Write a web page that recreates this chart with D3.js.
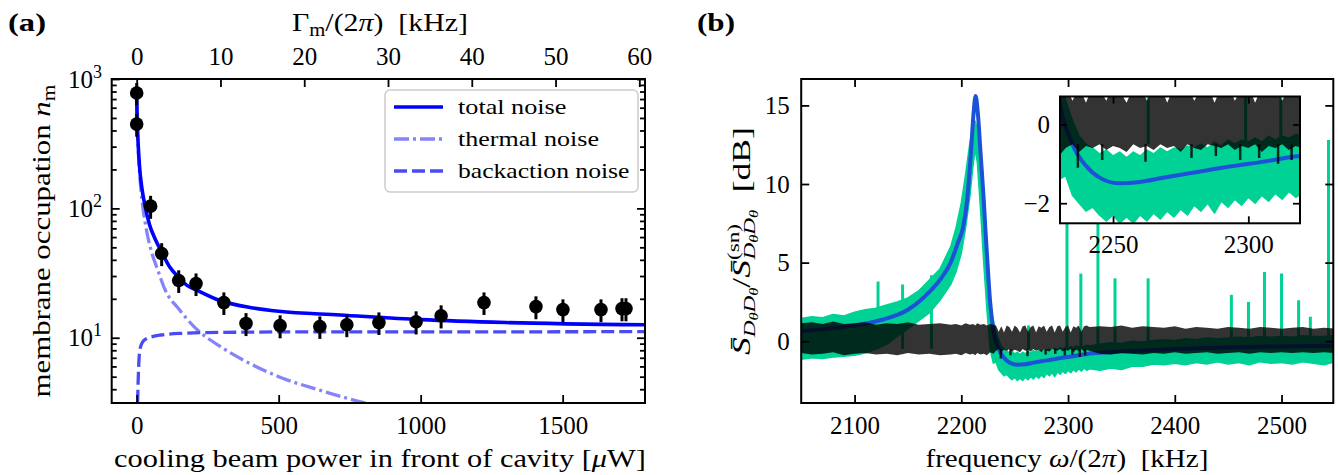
<!DOCTYPE html>
<html>
<head>
<meta charset="utf-8">
<script src="https://d3js.org/d3.v7.min.js"></script>
<style>
  body { margin: 0; background: #fff; }
  svg { display: block; font-family: "Liberation Serif", "Times New Roman", serif; }
  text { white-space: pre; }
</style>
</head>
<body>
<svg id="fig" width="1338" height="475"></svg>
<script>
// ---------- panel (a): occupation vs cooling power ----------
const powerUW    = [0, 0, 49, 88, 148, 209, 307, 385, 505, 645, 740, 853, 984, 1072, 1223, 1406, 1501, 1635, 1709, 1723];
const occupation = [780, 448, 104, 44.8, 27.7, 26.2, 18.7, 12.9, 12.4, 12.2, 12.6, 13.1, 13.3, 14.8, 18.7, 17.4, 16.5, 16.5, 16.8, 16.8];
const occErr     = [150, 90, 21, 9, 5.5, 5.2, 3.7, 2.6, 2.5, 2.4, 2.5, 2.6, 2.7, 3.0, 3.7, 3.5, 3.3, 3.3, 3.4, 3.4];

const totalP   = [0, 2, 5, 10, 18, 29, 45, 65, 88, 117, 150, 176, 209, 293, 410, 500, 716, 1000, 1300, 1800];
const totalN   = [700, 470, 320, 210, 145, 106, 75, 58, 46, 35, 29, 25.5, 23.5, 19.4, 17.0, 16.0, 15.0, 13.8, 13.1, 12.6];
const thermalP = [0, 2, 5, 10, 20, 35, 50, 75, 100, 150, 200, 300, 400, 500, 650, 800, 1000, 1200];
const thermalN = [703, 456, 299, 190, 110, 67, 48, 33, 23.5, 16.5, 12.3, 8.4, 6.3, 5.0, 3.9, 3.15, 2.6, 2.2];
const backP    = [1, 2, 3.5, 5, 7, 11, 20, 33, 55, 86, 150, 300, 600, 1000, 1800];
const backN    = [1.2, 2.2, 3.3, 4.5, 6.0, 8.0, 9.2, 9.8, 10.2, 10.5, 10.8, 11.0, 11.1, 11.1, 11.15];

const legendLabels = ["total noise", "thermal noise", "backaction noise"];
const powerTicks = [0, 500, 1000, 1500];
const gammaTicks = [0, 10, 20, 30, 40, 50, 60];
const occTicks = [10, 100, 1000];

// ---------- panel (b): spectrum ----------
const specF = [2050,2060,2070,2080,2090,2100,2110,2120,2130,2140,2150,2160,2170,2180,2190,
  2195,2200,2204,2208,2211,2213,2215,2218,2221,2224,2227,2230,
  2232.5,2235,2237.5,2240,2242.5,2245,2247.5,2250,2252.5,2255,2257.5,2260,2262.5,2265,2267.5,2270,2272.5,2275,2277.5,2280,
  2282.5,2285,2287.5,2290,2292.5,2295,2297.5,2300,2302.5,2305,2307.5,2310,2312.5,2315,2317.5,2320,
  2330,2340,2350,2360,2370,2380,2390,2400,2410,2420,2430,2440,2450,2460,2470,2480,2490,2500,2510,2520,2530,2540,2550];
const greenHi = [1.45,1.55,1.5,1.7,1.6,1.85,2.0,2.1,2.3,2.5,2.75,3.2,3.9,4.6,6.0,
  7.2,8.8,10.6,12.6,13.6,14.0,13.4,11.4,8.0,5.0,2.6,1.3,
  0.6,0.1,-0.3,-0.5,-0.6,-0.75,-0.65,-0.8,-0.7,-0.85,-0.7,-0.8,-0.65,-0.75,-0.6,-0.7,-0.6,-0.65,-0.55,-0.6,
  -0.5,-0.6,-0.45,-0.55,-0.4,-0.5,-0.4,-0.45,-0.35,-0.45,-0.3,-0.4,-0.3,-0.35,-0.25,-0.3,
  -0.2,-0.1,-0.15,0.0,-0.05,0.05,0.1,0.05,0.15,0.1,0.2,0.15,0.2,0.25,0.2,0.3,0.25,0.3,0.25,0.35,0.3,0.3,0.35];
const greenLo = [-1.15,-1.05,-1.1,-1.0,-0.95,-0.9,-0.75,-0.5,-0.2,0.3,0.8,1.3,1.8,2.6,3.6,
  4.4,5.6,7.2,9.2,11.2,12.2,11.4,8.4,5.0,2.0,-0.5,-1.4,
  -1.3,-1.8,-2.0,-2.2,-2.1,-2.3,-2.45,-2.3,-2.5,-2.35,-2.5,-2.3,-2.45,-2.25,-2.4,-2.2,-2.35,-2.15,-2.3,-2.05,
  -2.2,-2.0,-2.25,-1.95,-2.1,-1.9,-2.05,-1.85,-2.0,-1.8,-1.95,-1.75,-1.9,-1.7,-1.85,-1.75,
  -1.85,-1.7,-1.8,-1.6,-1.6,-1.45,-1.5,-1.4,-1.5,-1.35,-1.45,-1.3,-1.45,-1.35,-1.5,-1.3,-1.4,-1.35,-1.45,-1.3,-1.4,-1.5,-1.3];
const darkHi = [1.15,1.2,1.1,1.25,1.1,1.15,1.2,1.05,1.15,1.1,1.2,1.05,1.1,1.15,1.05,
  1.1,1.0,1.15,1.05,1.1,1.0,1.15,1.05,1.1,1.0,1.1,1.05,
  1.0,0.6,0.95,0.55,1.0,0.9,0.6,1.0,0.85,0.55,0.95,1.0,0.6,0.9,1.0,0.55,0.95,0.85,1.0,0.6,
  0.9,1.0,0.55,0.95,1.0,0.6,0.9,1.0,0.55,0.95,0.85,1.0,0.6,0.95,1.0,0.9,
  0.95,0.9,1.0,0.85,0.95,0.9,0.85,0.95,0.8,0.9,0.85,0.8,0.9,0.85,0.8,0.9,0.85,0.8,0.85,0.9,0.8,0.85,0.8];
const darkLo = [-0.75,-0.85,-0.8,-0.7,-0.9,-0.8,-0.75,-0.85,-0.8,-0.9,-0.75,-0.85,-0.8,-0.9,-0.85,
  -0.8,-0.9,-0.75,-0.85,-0.8,-0.9,-0.75,-0.85,-0.8,-0.9,-0.7,-0.8,
  -0.6,-0.5,-0.7,-0.55,-0.6,-0.5,-0.65,-0.55,-0.6,-0.7,-0.5,-0.6,-0.55,-0.65,-0.5,-0.6,-0.55,-0.7,-0.5,-0.6,
  -0.65,-0.5,-0.55,-0.6,-0.5,-0.65,-0.55,-0.6,-0.5,-0.7,-0.55,-0.6,-0.5,-0.65,-0.55,-0.6,
  -0.8,-0.85,-0.75,-0.8,-0.85,-0.75,-0.8,-0.7,-0.8,-0.75,-0.7,-0.8,-0.75,-0.7,-0.8,-0.7,-0.75,-0.7,-0.75,-0.7,-0.75,-0.7,-0.75];
const spikeF   = [2110, 2122, 2145, 2172, 2263, 2299, 2312, 2328, 2344, 2375, 2453, 2469, 2484, 2500, 2516, 2527, 2544];
const spikeTop = [1.9, 3.8, 3.6, 4.2, 1.0, 9.0, 4.3, 9.0, 4.0, 4.0, 2.95, 2.5, 4.4, 4.3, 2.6, 1.55, 12.8];
const darkSpikeF   = [2237, 2246, 2262, 2279, 2288, 2297, 2304, 2311, 2316];
const darkSpikeBot = [-1.1, -0.9, -0.95, -0.85, -0.8, -0.9, -0.85, -1.0, -0.9];
const fitF  = [2050,2075,2100,2125,2150,2165,2180,2190,2197,2201.5,2205.5,2209,2211.5,2213.4,2215.5,2218,2221,2222.5,2224.5,2227,2230,2235,2240,2245,2252,2260,2268,2280,2293,2305,2318,2335,2350,2375,2400,2450,2500,2550];
const fitDB = [0.65,0.8,1.0,1.35,2.0,2.8,3.9,5.0,6.3,7.2,9.0,12.0,14.5,15.6,14.5,12.0,9.0,7.2,5.0,2.5,0.7,-0.5,-1.05,-1.35,-1.49,-1.46,-1.36,-1.22,-1.07,-0.95,-0.81,-0.72,-0.66,-0.58,-0.5,-0.4,-0.33,-0.28];

const freqTicks = [2100, 2200, 2300, 2400, 2500];
const dbTicks = [0, 5, 10, 15];
const insetFreqTicks = [2250, 2300];
const insetDbTicks = [-2, 0];

const GREEN = "#00d195", FIT = "#1c52d8";
const SERIF = "Liberation Serif, Times New Roman, serif";

const svg = d3.select("#fig");
const defs = svg.append("defs");

function clipRect(id, r) {
  defs.append("clipPath").attr("id", id).append("rect")
    .attr("x", r.l).attr("y", r.t).attr("width", r.r - r.l).attr("height", r.b - r.t);
}

// text with math parts, stretched to the width seen in the figure (Computer Modern is wider)
function mathText(parent, parts, o) {
  const t = parent.append("text").attr("font-family", SERIF).attr("font-size", o.size || 26).attr("fill", "#000");
  if (o.bold) t.attr("font-weight", "bold");
  parts.forEach(p => {
    const s = t.append("tspan").text(p.t);
    if (p.it) s.attr("font-style", "italic");
    if (p.fs) s.attr("font-size", p.fs);
    if (p.dy) s.attr("dy", p.dy);
    if (p.dx) s.attr("dx", p.dx);
  });
  const bb = t.node().getBBox();
  const sx = o.width ? o.width / bb.width : 1;
  const shift = o.anchor === "start" ? -bb.x : -(bb.x + bb.width / 2);
  t.attr("transform", `translate(${o.x},${o.y}) rotate(${o.rot || 0}) scale(${sx},1) translate(${shift},0)`);
  return t;
}

function axis(g, gen, vals, size, fmt, pad) {
  gen.tickValues(vals).tickSizeInner(-size).tickSizeOuter(0).tickPadding(pad || 0)
    .tickFormat(fmt || (() => ""));
  g.call(gen);
  g.attr("font-family", SERIF).attr("font-size", 25);
  g.select(".domain").remove();
  g.selectAll(".tick line").attr("stroke", "#000").attr("stroke-width", 1.8);
  g.selectAll(".tick text").attr("fill", "#000").attr("font-family", SERIF).attr("font-size", 25);
  return g;
}

function frame(g, r) {
  g.append("rect").attr("x", r.l).attr("y", r.t).attr("width", r.r - r.l).attr("height", r.b - r.t)
    .attr("fill", "none").attr("stroke", "#000").attr("stroke-width", 2);
}

// ================= panel (a) =================
const A = { l: 111.7, r: 645, t: 79, b: 403 };
const kGamma = 29.5; // µW per kHz of optical damping
const xA = d3.scaleLinear().domain([-88, 1790]).range([A.l, A.r]);
const gA = d3.scaleLinear().domain([-88 / kGamma, 1790 / kGamma]).range([A.l, A.r]);
const yA = d3.scaleLog().domain([3.13, 1000]).range([A.b, A.t]);
clipRect("clipA", A);

const pa = svg.append("g");
const curves = pa.append("g").attr("clip-path", "url(#clipA)");
const lineA = d3.line().x(d => xA(d[0])).y(d => yA(d[1])).curve(d3.curveMonotoneX);

const series = [
  { p: thermalP, n: thermalN, color: "#8585fa", w: 3.3, dash: "15,4,3,4" },
  { p: backP, n: backN, color: "#4b4bf5", w: 3.3, dash: "13,5" },
  { p: totalP, n: totalN, color: "#0000ff", w: 3.6, dash: null }
];
series.forEach(s => {
  curves.append("path").datum(d3.zip(s.p, s.n)).attr("d", lineA)
    .attr("fill", "none").attr("stroke", s.color).attr("stroke-width", s.w)
    .attr("stroke-dasharray", s.dash);
});

const pts = d3.range(powerUW.length);
pa.append("g").selectAll("line").data(pts).join("line")
  .attr("x1", i => xA(powerUW[i])).attr("x2", i => xA(powerUW[i]))
  .attr("y1", i => yA(occupation[i] - occErr[i])).attr("y2", i => yA(occupation[i] + occErr[i]))
  .attr("stroke", "#000").attr("stroke-width", 3);
pa.append("g").selectAll("circle").data(pts).join("circle")
  .attr("cx", i => xA(powerUW[i])).attr("cy", i => yA(occupation[i])).attr("r", 6.8).attr("fill", "#000");

frame(pa, A);
const occMinor = [];
[1, 10, 100].forEach(dec => d3.range(2, 10).forEach(m => { if (m * dec > 3.13 && m * dec < 1000) occMinor.push(m * dec); }));

axis(pa.append("g").attr("transform", `translate(0,${A.b})`), d3.axisBottom(xA), powerTicks, 8, d3.format("d"), 13);
axis(pa.append("g").attr("transform", `translate(0,${A.t})`), d3.axisTop(gA), gammaTicks, 8, d3.format("d"), 14);
const yl = axis(pa.append("g").attr("transform", `translate(${A.l},0)`), d3.axisLeft(yA), occTicks, 8, () => "10", 9.7);
yl.selectAll(".tick text").append("tspan").attr("dy", -10).attr("font-size", 18).text(d => Math.round(Math.log10(d)));
axis(pa.append("g").attr("transform", `translate(${A.l},0)`), d3.axisLeft(yA), occMinor, 5);
axis(pa.append("g").attr("transform", `translate(${A.r},0)`), d3.axisRight(yA), occTicks, 8);
axis(pa.append("g").attr("transform", `translate(${A.r},0)`), d3.axisRight(yA), occMinor, 5);

// legend
const lg = pa.append("g");
lg.append("rect").attr("x", 385).attr("y", 90).attr("width", 253).attr("height", 102).attr("rx", 5)
  .attr("fill", "#fff").attr("fill-opacity", 0.8).attr("stroke", "#cccccc").attr("stroke-width", 1.5);
const legendOrder = [2, 0, 1];
const legendW = [108.5, 141, 171.5];
legendLabels.forEach((lab, i) => {
  const s = series[legendOrder[i]];
  const y = 107 + i * 32;
  lg.append("line").attr("x1", 394).attr("x2", 443).attr("y1", y).attr("y2", y)
    .attr("stroke", s.color).attr("stroke-width", s.w).attr("stroke-dasharray", s.dash);
  mathText(lg, [{ t: lab }], { x: 458, y: y + 7, size: 22, width: legendW[i], anchor: "start" });
});

mathText(pa, [{ t: "(a)" }], { x: 8, y: 31, size: 26, bold: true, width: 38, anchor: "start" });
mathText(pa, [{ t: "Γ" }, { t: "m", fs: 18, dy: 5 }, { t: "/(2", dy: -5 }, { t: "π", it: 1 }, { t: ")\u00a0\u00a0[kHz]" }],
  { x: 380, y: 31, size: 26, width: 176 });
mathText(pa, [{ t: "cooling beam power in front of cavity [" }, { t: "μ", it: 1 }, { t: "W]" }],
  { x: 380, y: 467, size: 26, width: 532 });
mathText(pa, [{ t: "membrane occupation " }, { t: "n", it: 1 }, { t: "m", fs: 18, dy: 5 }],
  { x: 50, y: 241, rot: -90, size: 26, width: 313 });

// ================= panel (b) =================
const B = { l: 801.2, r: 1333.3, t: 79, b: 403 };
const xB = d3.scaleLinear().domain([2050, 2548.5]).range([B.l, B.r]);
const yB = d3.scaleLinear().domain([-3.93, 16.68]).range([B.b, B.t]);
const I = { l: 1060, r: 1300, t: 96.5, b: 223.3 };
const xI = d3.scaleLinear().domain([2230.4, 2319.1]).range([I.l, I.r]);
const yI = d3.scaleLinear().domain([-2.51, 0.71]).range([I.b, I.t]);
clipRect("clipB", B);
clipRect("clipI", I);

function spectrum(g, x, y) {
  const idx = d3.range(specF.length);
  const area = (hi, lo) => d3.area().x(i => x(specF[i])).y0(i => y(lo[i])).y1(i => y(hi[i]));
  g.append("path").datum(idx).attr("d", area(greenHi, greenLo))
    .attr("fill", GREEN).attr("stroke", GREEN).attr("stroke-width", 1.5).attr("stroke-linejoin", "round");
  g.append("g").selectAll("line").data(d3.range(spikeF.length)).join("line")
    .attr("x1", i => x(spikeF[i])).attr("x2", i => x(spikeF[i]))
    .attr("y1", y(-0.5)).attr("y2", i => y(spikeTop[i]))
    .attr("stroke", GREEN).attr("stroke-width", 3);
  g.append("path").datum(d3.zip(fitF, fitDB))
    .attr("d", d3.line().x(d => x(d[0])).y(d => y(d[1])).curve(d3.curveMonotoneX))
    .attr("fill", "none").attr("stroke", FIT).attr("stroke-width", 4);
  g.append("path").datum(idx).attr("d", area(darkHi, darkLo))
    .attr("fill", "#000").attr("fill-opacity", 0.8);
  g.append("g").selectAll("line").data(d3.range(darkSpikeF.length)).join("line")
    .attr("x1", i => x(darkSpikeF[i])).attr("x2", i => x(darkSpikeF[i]))
    .attr("y1", y(-0.5)).attr("y2", i => y(darkSpikeBot[i]))
    .attr("stroke", "#000").attr("stroke-opacity", 0.8).attr("stroke-width", 2.5);
}

const pb = svg.append("g");
spectrum(pb.append("g").attr("clip-path", "url(#clipB)"), xB, yB);
frame(pb, B);
axis(pb.append("g").attr("transform", `translate(0,${B.b})`), d3.axisBottom(xB), freqTicks, 8, d3.format("d"), 13);
axis(pb.append("g").attr("transform", `translate(0,${B.t})`), d3.axisTop(xB), freqTicks, 8);
axis(pb.append("g").attr("transform", `translate(${B.l},0)`), d3.axisLeft(yB), dbTicks, 8, d3.format("d"), 11.5);
axis(pb.append("g").attr("transform", `translate(${B.r},0)`), d3.axisRight(yB), dbTicks, 8);

// inset
const ins = pb.append("g");
ins.append("rect").attr("x", I.l).attr("y", I.t).attr("width", I.r - I.l).attr("height", I.b - I.t).attr("fill", "#fff");
spectrum(ins.append("g").attr("clip-path", "url(#clipI)"), xI, yI);
frame(ins, I);
const minus = d => (d < 0 ? "\u2212" + Math.abs(d) : "" + d);
axis(ins.append("g").attr("transform", `translate(0,${I.b})`), d3.axisBottom(xI), insetFreqTicks, 7, d3.format("d"), 12);
axis(ins.append("g").attr("transform", `translate(0,${I.t})`), d3.axisTop(xI), insetFreqTicks, 7);
axis(ins.append("g").attr("transform", `translate(${I.l},0)`), d3.axisLeft(yI), insetDbTicks, 7, minus, 10);
axis(ins.append("g").attr("transform", `translate(${I.r},0)`), d3.axisRight(yI), insetDbTicks, 7);

mathText(pb, [{ t: "(b)" }], { x: 697, y: 31, size: 26, bold: true, width: 38, anchor: "start" });
mathText(pb, [{ t: "frequency " }, { t: "ω", it: 1 }, { t: "/(2" }, { t: "π", it: 1 }, { t: ")\u00a0\u00a0[kHz]" }],
  { x: 1067, y: 467, size: 26, width: 283 });
mathText(pb, [
  { t: "S\u0304", it: 1 },
  { t: "D", it: 1, fs: 17, dy: 5 }, { t: "θ", it: 1, fs: 12, dy: 3 }, { t: "D", it: 1, fs: 17, dy: -3 }, { t: "θ", it: 1, fs: 12, dy: 3 },
  { t: "/", dy: -8 },
  { t: "S\u0304", it: 1 },
  { t: "(sn)", fs: 17, dy: -11 },
  { t: "D", it: 1, fs: 17, dx: -26, dy: 16 }, { t: "θ", it: 1, fs: 12, dy: 3 }, { t: "D", it: 1, fs: 17, dy: -3 }, { t: "θ", it: 1, fs: 12, dy: 3 },
  { t: "\u00a0\u00a0[dB]", dy: -8 }
], { x: 750, y: 241, rot: -90, size: 26, width: 228 });
</script>
</body>
</html>
